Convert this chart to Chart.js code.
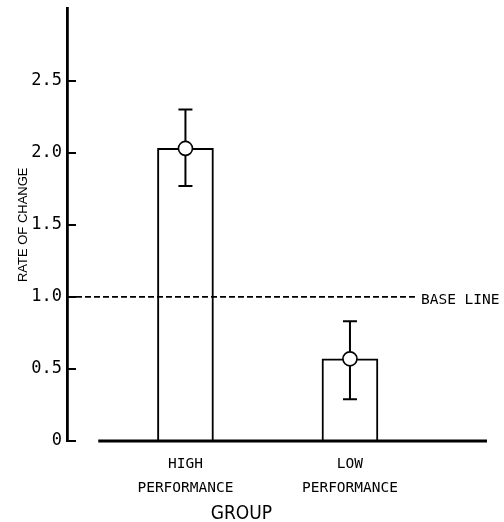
<!DOCTYPE html>
<html>
<head>
<meta charset="utf-8">
<script src="https://cdn.jsdelivr.net/npm/chart.js@4.4.1/dist/chart.umd.min.js"></script>
<style>
  html, body { margin: 0; padding: 0; background: #fff; }
  #wrap { width: 504px; height: 522px; position: relative; }
</style>
</head>
<body>
<div id="wrap"><canvas id="chart"></canvas></div>
<script>
// ---- data ----
const groups = [['HIGH', 'PERFORMANCE'], ['LOW', 'PERFORMANCE']];
const groupX = [1, 2];                 // position of each group on the x scale
const rateOfChange = [2.03, 0.57];     // bar height = group mean
const errLow = [1.77, 0.29];
const errHigh = [2.30, 0.83];
const yTicks = [0, 0.5, 1.0, 1.5, 2.0, 2.5];
const baseLineValue = 1.0;
const baseLineLabel = 'BASE LINE';
const xTitle = 'GROUP';

// ---- layout of the x range (where groups sit) ----
const X_MIN = 0.28;
const X_MAX = 2.833;
const AXIS_START = 0.47;   // x baseline starts a bit right of the y axis
const BASE_END = 2.395;    // dashed base line stops before its label
const TITLE_X = 1.34;      // "GROUP" sits left of the middle

const INK = '#000';
const MONO = '"DejaVu Sans Mono", "Liberation Mono", monospace';
const NARROW = '"DejaVu Sans Condensed", "Liberation Sans Narrow", "Roboto Condensed", "Liberation Sans", sans-serif';

/* error bars, drawn right after the bars so the circles sit on top */
const errorBars = {
  id: 'errorBars',
  afterDatasetDraw(chart, args) {
    if (args.index !== 0) return;
    const { ctx, scales: { x, y } } = chart;
    ctx.save();
    ctx.strokeStyle = INK;
    ctx.lineWidth = 2;
    groupX.forEach((gx, i) => {
      const px = x.getPixelForValue(gx);
      const top = y.getPixelForValue(errHigh[i]);
      const bot = y.getPixelForValue(errLow[i]);
      ctx.beginPath();
      ctx.moveTo(px, top); ctx.lineTo(px, bot);
      ctx.moveTo(px - 7, top); ctx.lineTo(px + 7, top);
      ctx.moveTo(px - 7, bot); ctx.lineTo(px + 7, bot);
      ctx.stroke();
    });
    ctx.restore();
  },
};

/* "BASE LINE" label and the x title */
const labels = {
  id: 'labels',
  afterDraw(chart) {
    const { ctx, scales: { x, y } } = chart;
    ctx.save();
    ctx.fillStyle = INK;
    ctx.textBaseline = 'middle';
    ctx.textAlign = 'left';
    ctx.font = '14.5px ' + MONO;
    ctx.fillText(baseLineLabel, x.getPixelForValue(BASE_END) + 6, y.getPixelForValue(baseLineValue) + 3);

    ctx.textAlign = 'center';
    ctx.font = '19px ' + NARROW;
    ctx.fillText(xTitle, x.getPixelForValue(TITLE_X), chart.height - 8);
    ctx.restore();
  },
};

new Chart(document.getElementById('chart'), {
  type: 'bar',
  data: {
    datasets: [
      {
        type: 'bar',
        data: groupX.map((gx, i) => ({ x: gx, y: rateOfChange[i] })),
        backgroundColor: '#fff',
        borderColor: INK,
        borderWidth: 2,
        barThickness: 56,
        order: 3,
      },
      {
        type: 'line',
        data: [{ x: X_MIN, y: baseLineValue }, { x: BASE_END, y: baseLineValue }],
        borderColor: INK,
        borderWidth: 1.6,
        borderDash: [6, 3],
        pointRadius: 0,
        clip: false,
        order: 2,
      },
      {
        type: 'line',
        data: [{ x: AXIS_START, y: 0 }, { x: X_MAX, y: 0 }],
        borderColor: INK,
        borderWidth: 3,
        pointRadius: 0,
        clip: false,
        order: 2,
      },
      {
        type: 'line',
        data: groupX.map((gx, i) => ({ x: gx, y: rateOfChange[i] })),
        showLine: false,
        pointRadius: 7,
        pointBackgroundColor: '#fff',
        pointBorderColor: INK,
        pointBorderWidth: 1.6,
        clip: false,
        order: 1,
      },
    ],
  },
  options: {
    responsive: true,
    maintainAspectRatio: false,
    animation: false,
    layout: { padding: { top: 8, right: 17, left: 0, bottom: 0 } },
    plugins: { legend: { display: false }, tooltip: { enabled: false } },
    scales: {
      x: {
        type: 'linear',
        min: X_MIN,
        max: X_MAX,
        offset: false,
        afterBuildTicks: (s) => { s.ticks = groupX.map((v) => ({ value: v })); },
        afterFit: (s) => { s.height = 81; s.paddingLeft = 0; s.paddingRight = 0; },
        grid: { display: false, drawTicks: false },
        border: { display: false },
        ticks: {
          color: INK,
          autoSkip: false,
          maxRotation: 0,
          padding: 12,
          font: { family: MONO, size: 14.5, lineHeight: 1.6 },
          callback: (v, i) => groups[i],
        },
      },
      y: {
        min: 0,
        max: 3,
        afterBuildTicks: (s) => { s.ticks = yTicks.map((v) => ({ value: v })); },
        afterFit: (s) => { s.width = 67; s.paddingTop = 0; s.paddingBottom = 0; },
        grid: { drawOnChartArea: false, drawTicks: true, tickLength: -9, color: INK, lineWidth: 2 },
        border: { display: true, color: INK, width: 2.8 },
        ticks: {
          color: INK,
          padding: 14,
          font: { family: MONO, size: 17 },
          callback: (v) => (v === 0 ? '0' : v.toFixed(1)),
        },
        title: {
          display: true,
          text: 'RATE OF CHANGE',
          color: INK,
          padding: { top: 15.5 },
          font: { family: '"Liberation Sans", Arial, sans-serif', size: 13, lineHeight: 1.2 },
        },
      },
    },
  },
  plugins: [errorBars, labels],
});
</script>
</body>
</html>
